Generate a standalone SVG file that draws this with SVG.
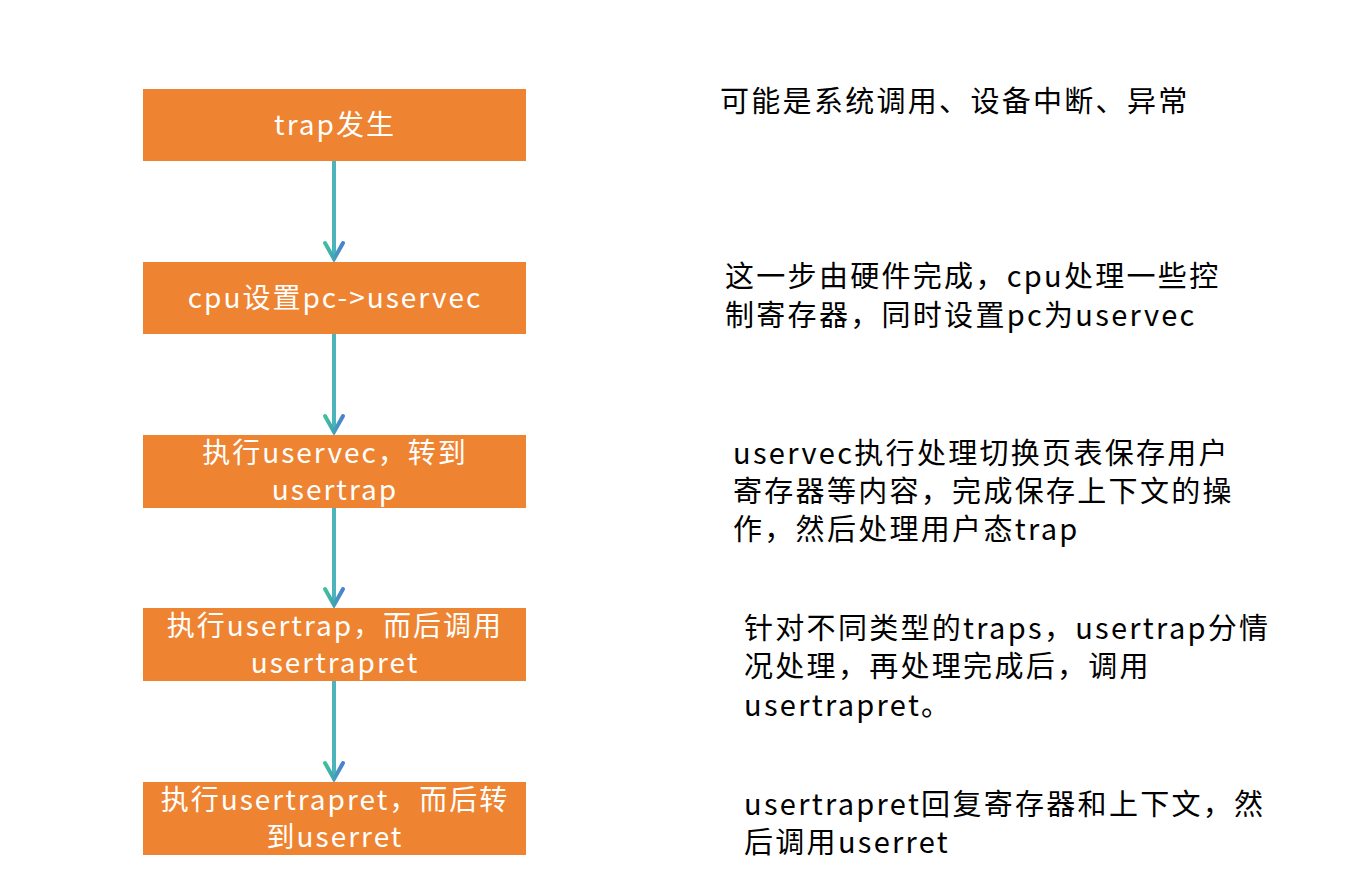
<svg xmlns="http://www.w3.org/2000/svg" width="1372" height="895" viewBox="0 0 1372 895">
<style>
.box{fill:#EE8431}
.bt{font-family:"Noto Sans CJK SC","Noto Sans",sans-serif;font-size:28px;letter-spacing:2px;fill:#ffffff;text-anchor:middle}
.rt{font-family:"Noto Sans CJK SC","Noto Sans",sans-serif;fill:#000000;font-size:29px;letter-spacing:2.3px}
.ln{stroke:#4DB3BD;stroke-width:4;fill:none}
.hd{stroke:url(#hg);stroke-width:4;fill:none;stroke-linecap:round;stroke-linejoin:miter}
</style>
<defs>
<linearGradient id="hg" x1="0" y1="0" x2="1" y2="0">
<stop offset="0" stop-color="#3EC29C"/>
<stop offset="1" stop-color="#4A7FD3"/>
</linearGradient>
</defs>
<rect width="1372" height="895" fill="#ffffff"/>
<g id="connectors">
<line class="ln" x1="334" y1="161" x2="334" y2="258"/>
<path class="hd" d="M325,243 L334,259 L343,243"/>
<line class="ln" x1="334" y1="334" x2="334" y2="431"/>
<path class="hd" d="M325,416 L334,432 L343,416"/>
<line class="ln" x1="334" y1="508" x2="334" y2="604"/>
<path class="hd" d="M325,589 L334,605 L343,589"/>
<line class="ln" x1="334" y1="681" x2="334" y2="778"/>
<path class="hd" d="M325,763 L334,779 L343,763"/>
</g>
<g id="n1">
<rect class="box" x="143" y="89" width="383" height="72"/>
<text class="bt" x="335" y="135">trap发生</text>
</g>
<g id="n2">
<rect class="box" x="143" y="262" width="383" height="72"/>
<text class="bt" x="335" y="308">cpu设置pc-&gt;uservec</text>
</g>
<g id="n3">
<rect class="box" x="143" y="435" width="383" height="73"/>
<text class="bt" x="335" y="463">执行uservec，转到</text>
<text class="bt" x="335" y="500">usertrap</text>
</g>
<g id="n4">
<rect class="box" x="143" y="608" width="383" height="73"/>
<text class="bt" x="335" y="636">执行usertrap，而后调用</text>
<text class="bt" x="335" y="673">usertrapret</text>
</g>
<g id="n5">
<rect class="box" x="143" y="782" width="383" height="73"/>
<text class="bt" x="335" y="810">执行usertrapret，而后转</text>
<text class="bt" x="335" y="847">到userret</text>
</g>
<g id="d1">
<text class="rt" x="720" y="112">可能是系统调用、设备中断、异常</text>
</g>
<g id="d2">
<text class="rt" x="725" y="287">这一步由硬件完成，cpu处理一些控</text>
<text class="rt" x="725" y="326">制寄存器，同时设置pc为uservec</text>
</g>
<g id="d3">
<text class="rt" x="733" y="464">uservec执行处理切换页表保存用户</text>
<text class="rt" x="733" y="502">寄存器等内容，完成保存上下文的操</text>
<text class="rt" x="733" y="540">作，然后处理用户态trap</text>
</g>
<g id="d4">
<text class="rt" x="744" y="639">针对不同类型的traps，usertrap分情</text>
<text class="rt" x="744" y="677">况处理，再处理完成后，调用</text>
<text class="rt" x="744" y="716">usertrapret。</text>
</g>
<g id="d5">
<text class="rt" x="744" y="815">usertrapret回复寄存器和上下文，然</text>
<text class="rt" x="744" y="853">后调用userret</text>
</g>
</svg>
